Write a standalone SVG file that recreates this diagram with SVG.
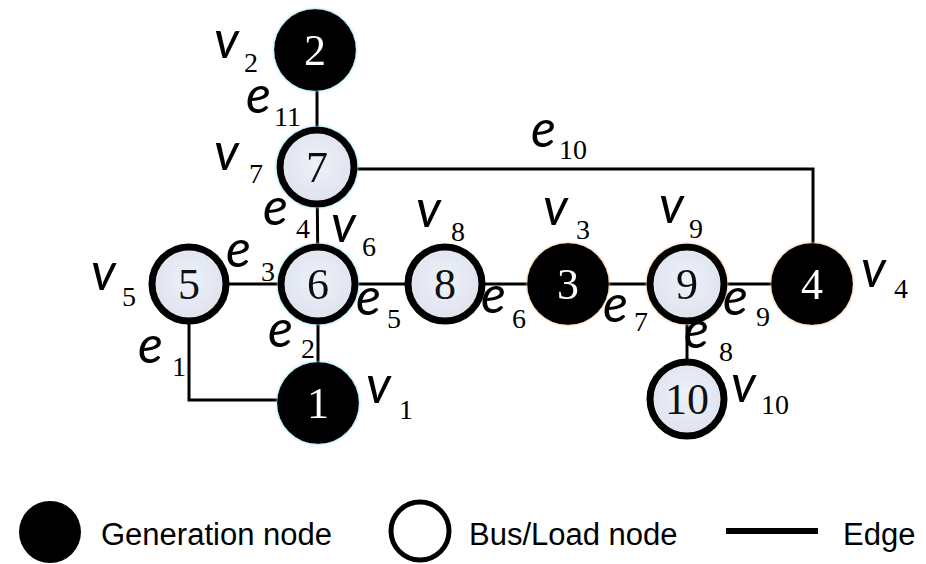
<svg xmlns="http://www.w3.org/2000/svg" width="926" height="564" viewBox="0 0 926 564">
<defs>
<radialGradient id="busFill" cx="50%" cy="45%" r="55%">
<stop offset="0" stop-color="#eef1f8"/>
<stop offset="1" stop-color="#dde2ee"/>
</radialGradient>
<filter id="glowC" x="-30%" y="-30%" width="160%" height="160%">
<feGaussianBlur in="SourceAlpha" stdDeviation="1.5" result="b"/>
<feFlood flood-color="#7fd6e8"/>
<feComposite in2="b" operator="in" result="g"/>
<feMerge><feMergeNode in="g"/><feMergeNode in="SourceGraphic"/></feMerge>
</filter>
<filter id="glowO" x="-30%" y="-30%" width="160%" height="160%">
<feGaussianBlur in="SourceAlpha" stdDeviation="1.5" result="b"/>
<feFlood flood-color="#f0c090"/>
<feComposite in2="b" operator="in" result="g"/>
<feMerge><feMergeNode in="g"/><feMergeNode in="SourceGraphic"/></feMerge>
</filter>
</defs>
<style>
.edge{stroke:#000;stroke-width:3;fill:none}
.bus{fill:url(#busFill);stroke:#000;stroke-width:7}
.gen{fill:#000}
.num{font-family:"Liberation Serif",serif;font-size:44px;text-anchor:middle}
.gnum{fill:#fff}
.bnum{fill:#111}
.lab{font-family:Lato,"Noto Sans",sans-serif;font-style:italic;font-size:52px;fill:#000}
.sub{font-family:"Liberation Serif",serif;font-size:28px;fill:#000}
.leg{font-family:"Liberation Sans",Arial,sans-serif;font-size:31px;fill:#000}
</style>
<rect width="926" height="564" fill="#fff"/>
<g id="connectors">
<line class="edge" x1="317" y1="50" x2="317" y2="167"/>
<line class="edge" x1="317" y1="167" x2="318" y2="284"/>
<line class="edge" x1="318" y1="284" x2="318" y2="402"/>
<line class="edge" x1="189" y1="284" x2="812" y2="284"/>
<polyline class="edge" points="189,284 189,400 318,400"/>
<polyline class="edge" points="317,169 813,169 813,284"/>
<line class="edge" x1="687" y1="284" x2="687" y2="398"/>
</g>
<g id="node2" filter="url(#glowC)"><circle class="gen" cx="315" cy="50" r="41"/><text class="num gnum" x="315" y="65">2</text></g>
<g id="node7" filter="url(#glowC)"><circle class="bus" cx="317" cy="167" r="37"/><text class="num bnum" x="317" y="182">7</text></g>
<g id="node6" filter="url(#glowC)"><circle class="bus" cx="318" cy="284" r="37"/><text class="num bnum" x="318" y="299">6</text></g>
<g id="node5"><circle class="bus" cx="189" cy="284" r="37"/><text class="num bnum" x="189" y="299">5</text></g>
<g id="node1" filter="url(#glowC)"><circle class="gen" cx="318" cy="403" r="41"/><text class="num gnum" x="318" y="418">1</text></g>
<g id="node8"><circle class="bus" cx="445" cy="284" r="37"/><text class="num bnum" x="445" y="299">8</text></g>
<g id="node3" filter="url(#glowO)"><circle class="gen" cx="568" cy="284" r="41"/><text class="num gnum" x="568" y="299">3</text></g>
<g id="node9" filter="url(#glowO)"><circle class="bus" cx="687" cy="284" r="37"/><text class="num bnum" x="687" y="299">9</text></g>
<g id="node4" filter="url(#glowO)"><circle class="gen" cx="812" cy="284" r="41"/><text class="num gnum" x="812" y="299">4</text></g>
<g id="node10"><circle class="bus" cx="687" cy="399" r="37"/><text class="num bnum" x="687" y="414">10</text></g>
<g id="labels">
<text class="lab" x="214" y="58">v</text><text class="sub" x="244" y="72">2</text>
<text class="lab" x="246" y="113">e</text><text class="sub" x="274" y="126">11</text>
<text class="lab" x="214" y="170">v</text><text class="sub" x="249" y="183">7</text>
<text class="lab" x="263" y="225">e</text><text class="sub" x="296" y="238">4</text>
<text class="lab" x="331" y="242">v</text><text class="sub" x="362" y="256">6</text>
<text class="lab" x="226" y="267">e</text><text class="sub" x="261" y="281">3</text>
<text class="lab" x="91" y="290">v</text><text class="sub" x="122" y="306">5</text>
<text class="lab" x="268" y="347">e</text><text class="sub" x="301" y="358">2</text>
<text class="lab" x="138" y="363">e</text><text class="sub" x="172" y="376">1</text>
<text class="lab" x="366" y="403">v</text><text class="sub" x="399" y="419">1</text>
<text class="lab" x="356" y="315">e</text><text class="sub" x="387" y="328">5</text>
<text class="lab" x="416" y="227">v</text><text class="sub" x="451" y="241">8</text>
<text class="lab" x="481" y="313">e</text><text class="sub" x="512" y="328">6</text>
<text class="lab" x="543" y="225">v</text><text class="sub" x="576" y="239">3</text>
<text class="lab" x="603" y="322">e</text><text class="sub" x="634" y="331">7</text>
<text class="lab" x="659" y="223">v</text><text class="sub" x="689" y="238">9</text>
<text class="lab" x="723" y="315">e</text><text class="sub" x="756" y="326">9</text>
<text class="lab" x="684" y="348">e</text><text class="sub" x="719" y="361">8</text>
<text class="lab" x="861" y="287">v</text><text class="sub" x="894" y="298">4</text>
<text class="lab" x="731" y="402">v</text><text class="sub" x="761" y="414">10</text>
<text class="lab" x="531" y="147">e</text><text class="sub" x="559" y="159">10</text>
</g>
<g id="legend">
<circle cx="50" cy="532" r="31" fill="#000"/>
<text class="leg" x="101" y="545">Generation node</text>
<circle cx="420" cy="531" r="29" fill="#fff" stroke="#000" stroke-width="5"/>
<text class="leg" x="469" y="545">Bus/Load node</text>
<line x1="726" y1="531" x2="818" y2="531" stroke="#000" stroke-width="6"/>
<text class="leg" x="843" y="545">Edge</text>
</g>
</svg>
